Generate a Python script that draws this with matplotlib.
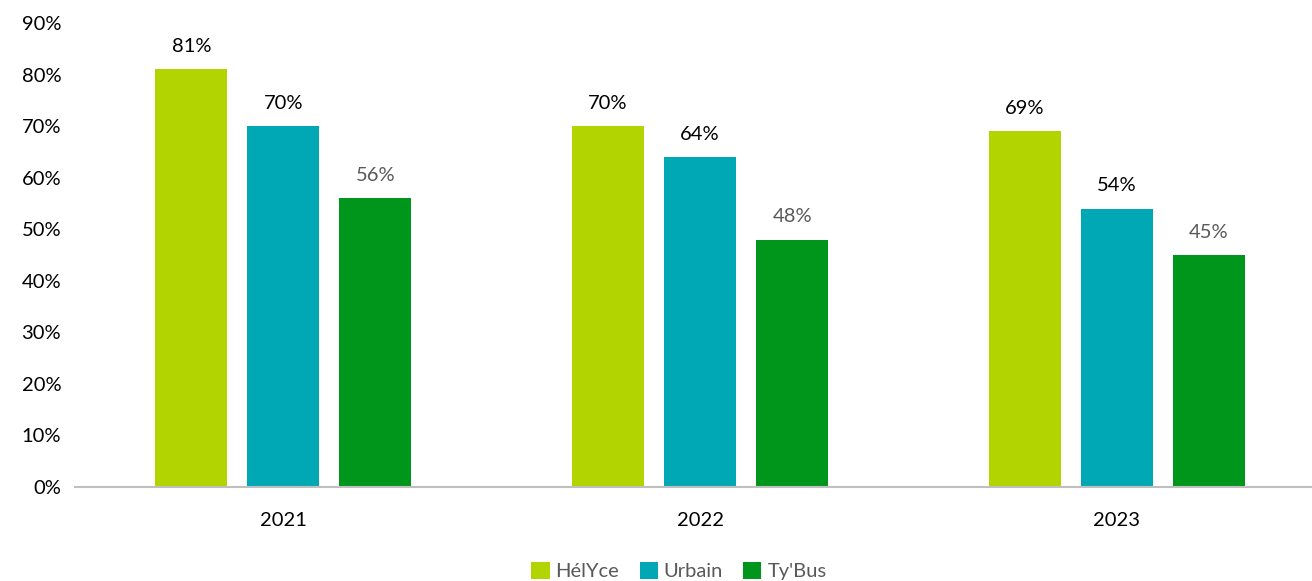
import numpy as np
import matplotlib
matplotlib.use('Agg')
import matplotlib.pyplot as plt

plt.rcParams['font.family'] = ['Lato', 'DejaVu Sans']

years = ['2021', '2022', '2023']
series = ['HélYce', 'Urbain', "Ty'Bus"]
helyce = [81, 70, 69]
urbain = [70, 64, 54]
tybus = [56, 48, 45]
values = [helyce, urbain, tybus]
colors = ['#b2d400', '#00a8b5', '#00961b']
label_colors = ['#000000', '#000000', '#595959']

fig = plt.figure(figsize=(13.12, 5.81), dpi=100)
ax = fig.add_axes([0.0572, 0.1618, 0.9527, 0.7986])

x = np.arange(len(years))
width = 0.173
step = 0.221
for i, (name, vals) in enumerate(zip(series, values)):
    pos = x + (i - 1) * step
    ax.bar(pos, vals, width, color=colors[i], label=name, zorder=2)
    for p, v in zip(pos, vals):
        ax.text(p, v + 2.8, f'{v}%', ha='center', va='bottom',
                fontsize=14.5, color=label_colors[i])

ax.set_xlim(-0.5, 2.5)
ax.set_ylim(0, 90)
ax.set_yticks(range(0, 91, 10))
ax.set_yticklabels([f'{t}%' for t in range(0, 91, 10)], fontsize=14.5)
ax.set_xticks(x)
ax.set_xticklabels(years, fontsize=14.5)
ax.tick_params(axis='y', length=0, pad=10)
ax.tick_params(axis='x', length=0, pad=18)
for s in ['top', 'right', 'left']:
    ax.spines[s].set_visible(False)
ax.spines['bottom'].set_color('#bfbfbf')
ax.spines['bottom'].set_linewidth(1.5)

leg = fig.legend(loc='lower center', bbox_to_anchor=(0.5175, -0.03), ncol=3,
                 frameon=False, fontsize=14.5, handlelength=0.9, handleheight=0.9,
                 handletextpad=0.3, columnspacing=1.0)
for t in leg.get_texts():
    t.set_color('#595959')

fig.savefig('out.png', dpi=100)
